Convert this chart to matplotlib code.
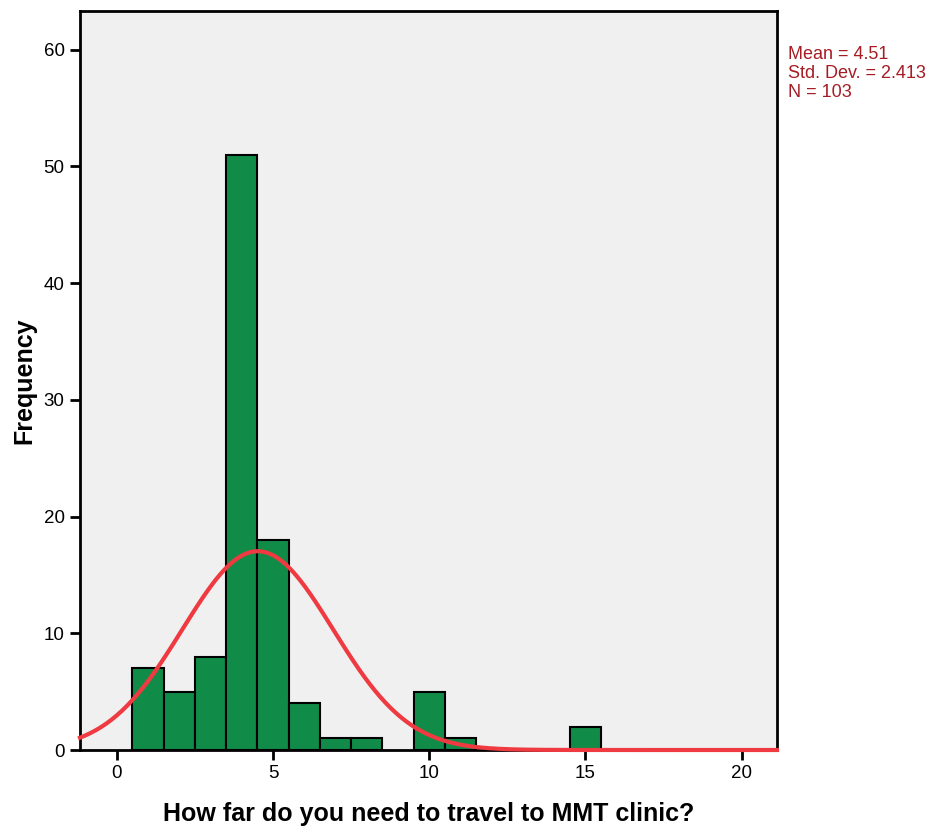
import matplotlib.pyplot as plt
import numpy as np

plt.rcParams['font.family'] = ['Liberation Sans', 'DejaVu Sans']

# distance values (bin centres) and their counts
distance = [1, 2, 3, 4, 5, 6, 7, 8, 10, 11, 15]
counts = [7, 5, 8, 51, 18, 4, 1, 1, 5, 1, 2]
mean = 4.51
sd = 2.413
n = 103

fig = plt.figure(figsize=(9.32, 8.26), dpi=100)
ax = fig.add_axes([0.0858, 0.092, 0.7479, 0.8947])
ax.set_facecolor('#f0f0f0')

ax.bar(distance, counts, width=1.0, color='#118c48', edgecolor='black', linewidth=1.5, zorder=2)

xmin, xmax = -1.18, 21.13
xs = np.linspace(xmin, xmax, 400)
ys = n * 1.0 / (sd * np.sqrt(2 * np.pi)) * np.exp(-0.5 * ((xs - mean) / sd) ** 2)
ax.plot(xs, ys, color='#ee3a40', linewidth=3, zorder=3, clip_on=False)

ax.set_xlim(xmin, xmax)
ax.set_ylim(0, 63.3)
ax.set_xticks([0, 5, 10, 15, 20])
ax.set_yticks([0, 10, 20, 30, 40, 50, 60])
ax.tick_params(direction='out', length=7, width=2, labelsize=13.5, pad=4)
for s in ax.spines.values():
    s.set_linewidth(2)

ax.set_xlabel('How far do you need to travel to MMT clinic?', fontsize=18, fontweight='bold', labelpad=14)
ax.set_ylabel('Frequency', fontsize=18, fontweight='bold', labelpad=5)

fig.text(0.846, 0.911, 'Mean = 4.51\nStd. Dev. = 2.413\nN = 103', color='#a51c24',
         fontsize=13, va='center', ha='left', linespacing=1.12)

fig.savefig('out.png', dpi=100)
